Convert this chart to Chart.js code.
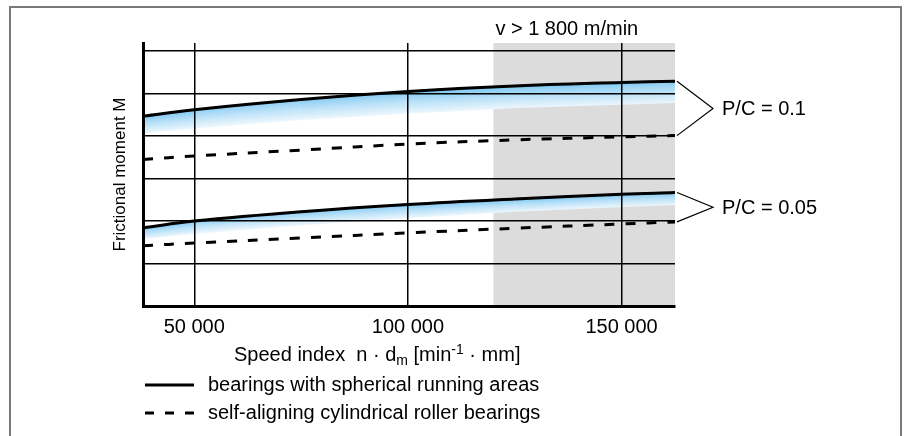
<!DOCTYPE html>
<html>
<head>
<meta charset="utf-8">
<script src="https://cdn.jsdelivr.net/npm/chart.js@4.4.1/dist/chart.umd.min.js"></script>
<style>
  html, body { margin: 0; padding: 0; background: #fff; }
  #wrap { width: 906px; height: 436px; }
</style>
</head>
<body>
<div id="wrap"><canvas id="chart"></canvas></div>
<script>
// speed index n·dm [min-1 · mm]
const speedIndex = [38000, 50000, 75000, 100000, 125000, 150000, 162500];
// frictional moment, relative units (one grid step = 1)
const spherical01 = [4.47, 4.62, 4.86, 5.05, 5.18, 5.26, 5.29];
const spread01 = [4.07, 4.18, 4.38, 4.53, 4.66, 4.74, 4.78];
const cylindrical01 = [3.45, 3.53, 3.67, 3.81, 3.91, 3.98, 4.01];
const spherical005 = [1.84, 2.00, 2.22, 2.39, 2.52, 2.63, 2.67];
const spread005 = [1.58, 1.70, 1.90, 2.07, 2.22, 2.33, 2.38];
const cylindrical005 = [1.42, 1.48, 1.60, 1.72, 1.83, 1.93, 1.98];

const xTicks = [50000, 100000, 150000];
const yGrid = [0, 1, 2, 3, 4, 5, 6];
const highSpeedFrom = 120000;
const highSpeedLabel = 'v > 1 800 m/min';
const loadLabels = ['P/C = 0.1', 'P/C = 0.05'];
const legendLabels = ['bearings with spherical running areas', 'self-aligning cylindrical roller bearings'];
const yTitle = 'Frictional moment M';

const FONT = '"Liberation Sans", Arial, Helvetica, sans-serif';
const DASH = [10, 11];

const pts = ys => ys.map((y, i) => ({ x: speedIndex[i], y: y }));

const lineStyle = (dashed) => ({
  borderColor: '#000',
  borderWidth: 3,
  borderDash: dashed ? DASH : [],
  pointRadius: 0,
  fill: false,
  tension: 0.4
});

const hidden = { showLine: false, pointRadius: 0, borderWidth: 0 };

const decor = {
  id: 'decor',
  beforeDraw(chart) {
    const { ctx, chartArea: a, scales: { x } } = chart;
    ctx.save();
    // outer frame
    ctx.strokeStyle = '#7a7a7a';
    ctx.lineWidth = 2;
    ctx.strokeRect(10, 7, 891, 440);

    // high speed zone
    const xs = x.getPixelForValue(highSpeedFrom);
    ctx.fillStyle = '#dcdcdc';
    ctx.fillRect(xs, a.top, a.right - xs, a.bottom - a.top);

    // blue scatter band under the spherical curves
    [[0, 4], [2, 5]].forEach(([ti, bi]) => {
      const top = chart.getDatasetMeta(ti).data;
      const bot = chart.getDatasetMeta(bi).data;
      for (let i = 0; i < top.length - 1; i++) {
        const x0 = top[i].x, x1 = top[i + 1].x;
        for (let px = x0; px < x1; px += 1) {
          const t = (px - x0) / (x1 - x0);
          const yt = top[i].y + t * (top[i + 1].y - top[i].y) - 1;
          const yb = bot[i].y + t * (bot[i + 1].y - bot[i].y);
          const g = ctx.createLinearGradient(0, yt, 0, yb);
          g.addColorStop(0, 'rgb(120,198,242)');
          g.addColorStop(0.5, 'rgb(185,225,248)');
          g.addColorStop(1, 'rgb(236,246,253)');
          ctx.fillStyle = g;
          ctx.fillRect(px, yt, Math.min(1.3, x1 - px), yb - yt);
        }
      }
    });
    ctx.restore();
  },
  afterDraw(chart) {
    const { ctx, chartArea: a, scales: { x } } = chart;
    ctx.save();
    ctx.fillStyle = '#000';
    ctx.strokeStyle = '#000';
    ctx.font = '20px ' + FONT;

    // label over the shaded zone
    ctx.textAlign = 'left';
    ctx.textBaseline = 'alphabetic';
    ctx.fillText(highSpeedLabel, x.getPixelForValue(highSpeedFrom) + 2, 35);

    // brackets with P/C labels
    [[0, 1], [2, 3]].forEach(([si, di], k) => {
      const s = chart.getDatasetMeta(si).data;
      const d = chart.getDatasetMeta(di).data;
      const ys = s[s.length - 1].y, yd = d[d.length - 1].y;
      const tipX = a.right + 38, tipY = (ys + yd) / 2;
      ctx.lineWidth = 1.2;
      ctx.beginPath();
      ctx.moveTo(a.right + 2, ys);
      ctx.lineTo(tipX, tipY);
      ctx.lineTo(a.right + 2, yd);
      ctx.stroke();
      ctx.textBaseline = 'middle';
      ctx.fillText(loadLabels[k], tipX + 9, tipY + 1);
    });

    // x axis title with sub/superscript
    const parts = [
      ['Speed index  n · d', 0], ['m', 1], [' [min', 0], ['-1', -1], [' · mm]', 0]
    ];
    const fontFor = p => (p === 0 ? '20px ' : '14px ') + FONT;
    let cx = a.left + 91;
    const base = 361;
    ctx.textBaseline = 'alphabetic';
    parts.forEach(([t, p]) => {
      ctx.font = fontFor(p);
      ctx.fillText(t, cx, base + (p === 1 ? 4 : p === -1 ? -7 : 0));
      cx += ctx.measureText(t).width;
    });

    // legend
    const rows = [[0, 385], [1, 413]];
    ctx.font = '20px ' + FONT;
    ctx.textBaseline = 'middle';
    rows.forEach(([i, yy]) => {
      const ds = chart.data.datasets[i];
      ctx.lineWidth = 3;
      ctx.setLineDash(ds.borderDash.length ? [9, 11] : []);
      ctx.beginPath();
      ctx.moveTo(145, yy);
      ctx.lineTo(194, yy);
      ctx.stroke();
      ctx.setLineDash([]);
      ctx.fillText(legendLabels[i], 208, yy);
    });
    ctx.restore();
  }
};

new Chart(document.getElementById('chart'), {
  type: 'line',
  data: {
    datasets: [
      Object.assign({ label: legendLabels[0], data: pts(spherical01) }, lineStyle(false)),
      Object.assign({ label: legendLabels[1], data: pts(cylindrical01) }, lineStyle(true)),
      Object.assign({ label: legendLabels[0], data: pts(spherical005) }, lineStyle(false)),
      Object.assign({ label: legendLabels[1], data: pts(cylindrical005) }, lineStyle(true)),
      Object.assign({ label: 'spread 0.1', data: pts(spread01) }, hidden),
      Object.assign({ label: 'spread 0.05', data: pts(spread005) }, hidden)
    ]
  },
  options: {
    responsive: true,
    maintainAspectRatio: false,
    animation: false,
    layout: { padding: { left: 105.8, right: 231, top: 43, bottom: 88 } },
    plugins: { legend: { display: false }, tooltip: { enabled: false } },
    scales: {
      x: {
        type: 'linear',
        min: 38000,
        max: 162500,
        afterBuildTicks: s => { s.ticks = xTicks.map(v => ({ value: v })); },
        grid: { color: '#000', lineWidth: 1.5, drawTicks: false },
        border: { color: '#000', width: 3 },
        ticks: {
          color: '#000',
          padding: 9,
          font: { family: FONT, size: 20 },
          maxRotation: 0,
          callback: v => String(v).replace(/\B(?=(\d{3})+(?!\d))/g, ' ')
        }
      },
      y: {
        min: 0,
        max: 6.19,
        afterBuildTicks: s => { s.ticks = yGrid.map(v => ({ value: v })); },
        grid: { color: '#000', lineWidth: 1.5, drawTicks: false },
        border: { color: '#000', width: 3 },
        ticks: { display: false },
        title: {
          display: true,
          text: yTitle,
          color: '#000',
          font: { family: FONT, size: 17 },
          padding: { top: 4, bottom: 12.8 }
        }
      }
    }
  },
  plugins: [decor]
});
</script>
</body>
</html>
